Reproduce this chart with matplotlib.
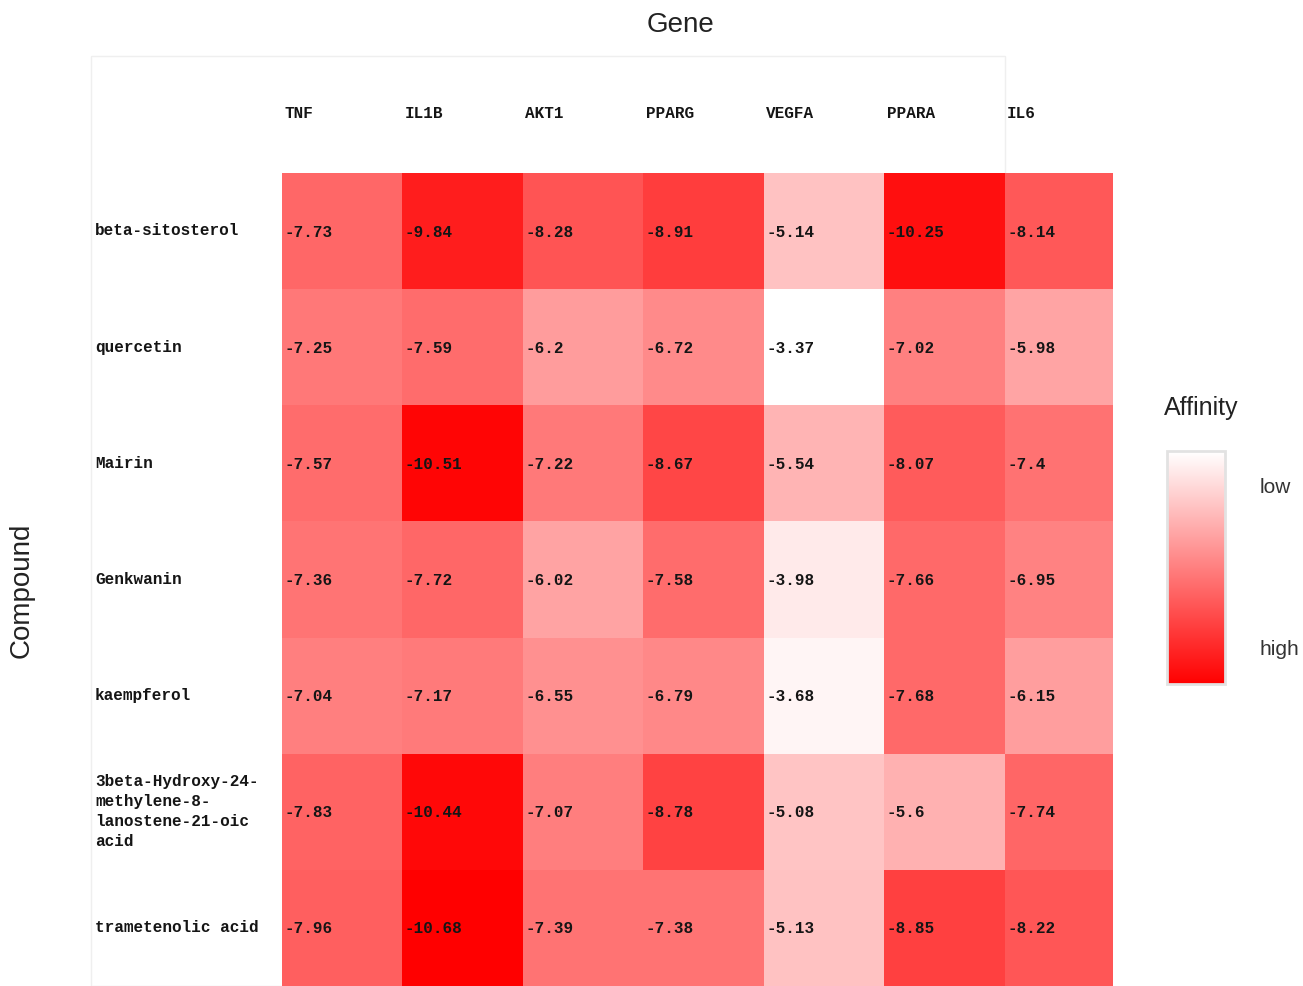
import matplotlib.pyplot as plt
import numpy as np
from matplotlib.colors import LinearSegmentedColormap, Normalize
from matplotlib.patches import Rectangle

genes = ["TNF", "IL1B", "AKT1", "PPARG", "VEGFA", "PPARA", "IL6"]
compounds = ["beta-sitosterol", "quercetin", "Mairin", "Genkwanin", "kaempferol",
             "3beta-Hydroxy-24-\nmethylene-8-\nlanostene-21-oic\nacid",
             "trametenolic acid"]

beta_sitosterol = [-7.73, -9.84, -8.28, -8.91, -5.14, -10.25, -8.14]
quercetin = [-7.25, -7.59, -6.2, -6.72, -3.37, -7.02, -5.98]
mairin = [-7.57, -10.51, -7.22, -8.67, -5.54, -8.07, -7.4]
genkwanin = [-7.36, -7.72, -6.02, -7.58, -3.98, -7.66, -6.95]
kaempferol = [-7.04, -7.17, -6.55, -6.79, -3.68, -7.68, -6.15]
hydroxy_lanostene = [-7.83, -10.44, -7.07, -8.78, -5.08, -5.6, -7.74]
trametenolic_acid = [-7.96, -10.68, -7.39, -7.38, -5.13, -8.85, -8.22]

affinity = np.array([beta_sitosterol, quercetin, mairin, genkwanin,
                     kaempferol, hydroxy_lanostene, trametenolic_acid])

cell_font = "Liberation Mono"
cell_size = 11.5
text_col = "#151515"
cmap = LinearSegmentedColormap.from_list("affinity", ["#FF0000", "#FFFFFF"])
norm = Normalize(vmin=affinity.min(), vmax=affinity.max())

fig = plt.figure(figsize=(13.03, 9.87), dpi=100)
W, H = 1303, 987

# light frame around the table area, kept behind the heatmap
fig.patches.append(Rectangle((91 / W, 0), (1005 - 91) / W, (H - 57) / H,
                             transform=fig.transFigure, fill=False,
                             edgecolor="#EFEFEF", linewidth=1, zorder=-1))

ax = fig.add_axes([282 / W, 0, (1113 - 282) / W, (H - 174) / H])
ax.pcolormesh(np.arange(len(genes) + 1), np.arange(len(compounds) + 1),
              affinity, cmap=cmap, norm=norm)
ax.set_xlim(0, 6.9)
ax.set_ylim(len(compounds), 0)
ax.axis("off")
col_w = (1113 - 282) / 6.9

for i in range(len(compounds)):
    for j in range(len(genes)):
        ax.text(j + 0.02, i + 0.5, f"{affinity[i, j]:g}", ha="left", va="center",
                family=cell_font, fontsize=cell_size, fontweight="bold",
                color=text_col)

# gene labels above the columns
for j, g in enumerate(genes):
    ax.text(j + 0.02, -0.52, g, ha="left", va="center", family=cell_font,
            fontsize=cell_size, fontweight="bold", color=text_col, clip_on=False)

# compound labels on the left
for i, c in enumerate(compounds):
    ax.text(-(282 - 95) / col_w, i + 0.49, c, ha="left", va="center",
            family=cell_font, fontsize=cell_size, fontweight="bold",
            color=text_col, linespacing=1.4, clip_on=False)

fig.text(681 / W, 1 - 25 / H, "Gene", ha="center", va="center",
         family="Liberation Sans", fontsize=20, color="#222222")
fig.text(22 / W, 1 - 590 / H, "Compound", ha="center", va="center",
         rotation=90, family="Liberation Sans", fontsize=20, color="#222222")

# colour legend
cax = fig.add_axes([1167 / W, (H - 685) / H, 58 / W, 233 / H])
cb = fig.colorbar(plt.cm.ScalarMappable(norm=norm, cmap=cmap), cax=cax)
cb.outline.set_edgecolor("#E2E2E2")
cb.outline.set_linewidth(2)
rng = affinity.max() - affinity.min()
cb.set_ticks([affinity.min() + 0.159 * rng, affinity.min() + 0.858 * rng])
cb.set_ticklabels(["high", "low"])
cax.tick_params(length=0, pad=25, labelsize=15, labelcolor="#333333")
for lab in cax.get_yticklabels():
    lab.set_family("Liberation Sans")
fig.text(1201 / W, 1 - 408 / H, "Affinity", ha="center", va="center",
         family="Liberation Sans", fontsize=18, color="#222222")

fig.savefig("out.png", dpi=100)
